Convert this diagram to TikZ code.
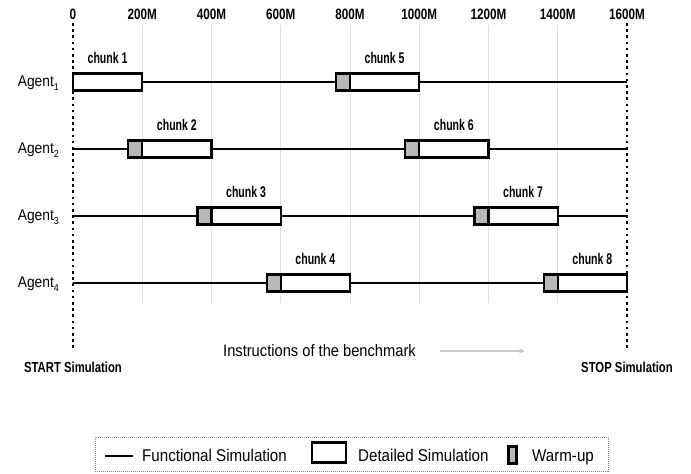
\documentclass[tikz,border=0pt]{standalone}
\usepackage{fontspec}
\setmainfont{Liberation Sans}
\newfontfamily\fchunk{Liberation Sans}[FakeStretch=0.68]
\newfontfamily\fbold{Liberation Sans}[FakeStretch=0.78]
\newfontfamily\fnorm{Liberation Sans}[FakeStretch=0.89]
\usetikzlibrary{arrows.meta}
\newcommand{\agentname}[1]{Agent\raisebox{-3.5pt}{\fontsize{10}{10}\selectfont #1}}
\tikzset{
  ticklbl/.style={font=\fbold\bfseries\fontsize{15}{18}\selectfont, anchor=base, inner sep=0pt},
  chunklbl/.style={font=\fchunk\bfseries\fontsize{15.5}{18}\selectfont, anchor=base, inner sep=0pt},
  agentlbl/.style={font=\fnorm\fontsize{15.5}{18}\selectfont, anchor=base east, inner sep=0pt},
  endlbl/.style={font=\fbold\bfseries\fontsize{14.5}{17}\selectfont, anchor=base, inner sep=0pt},
  legtxt/.style={font=\fnorm\fontsize{17}{20}\selectfont, anchor=base west, inner sep=0pt},
  rowline/.style={line width=2pt, black},
  gridline/.style={line width=0.6pt, black!12},
  dotline/.style={line width=2.6pt, dash pattern=on 2.6pt off 3.6pt, black},
  detail/.style={draw, line width=2.4pt, fill=white, minimum height=17pt, minimum width=69.25pt, inner sep=0pt, outer sep=0pt},
  warm/.style={draw, line width=2.4pt, fill=black!28, minimum height=17pt, minimum width=14pt, inner sep=0pt, outer sep=0pt},
}
\begin{document}
\begin{tikzpicture}[x=1pt,y=-1pt]
\useasboundingbox (0,0) rectangle (691,474);
% grid
\foreach \gx in {142.25,211.5,280.75,350,419.25,488.5,557.75}
  \draw[gridline] (\gx,25) -- (\gx,303);
% tick labels
\node[ticklbl] (t0) at (73,19) {0};
\node[ticklbl] (t1) at (142.25,19) {200M};
\node[ticklbl] (t2) at (211.5,19) {400M};
\node[ticklbl] (t3) at (280.75,19) {600M};
\node[ticklbl] (t4) at (350,19) {800M};
\node[ticklbl] (t5) at (419.25,19) {1000M};
\node[ticklbl] (t6) at (488.5,19) {1200M};
\node[ticklbl] (t7) at (557.75,19) {1400M};
\node[ticklbl] (t8) at (627,19) {1600M};
% dotted start/stop lines
\coordinate (ds) at (73,23); \coordinate (dsb) at (73,350);
\coordinate (de) at (627,23); \coordinate (deb) at (627,350);
\draw[dotline] (ds) -- (dsb);
\draw[dotline] (de) -- (deb);
% rows
\coordinate (s1) at (73,82);  \coordinate (e1) at (627,82);
\coordinate (s2) at (73,149); \coordinate (e2) at (627,149);
\coordinate (s3) at (73,216); \coordinate (e3) at (627,216);
\coordinate (s4) at (73,283); \coordinate (e4) at (627,283);
\draw[rowline] (s1) -- (e1);
\draw[rowline] (s2) -- (e2);
\draw[rowline] (s3) -- (e3);
\draw[rowline] (s4) -- (e4);
% agent labels
\node[agentlbl] (a1) at (59,86.5) {\agentname{1}};
\node[agentlbl] (a2) at (59,153.5) {\agentname{2}};
\node[agentlbl] (a3) at (59,220.5) {\agentname{3}};
\node[agentlbl] (a4) at (59,287.5) {\agentname{4}};
% chunks
\node[detail] (c1) at (107.6,82) {};
\node[detail] (c5) at (384.6,82) {};
\node[warm, anchor=east] (w5) at (c5.west) {};
\node[detail] (c2) at (176.9,149) {};
\node[warm, anchor=east] (w2) at (c2.west) {};
\node[detail] (c6) at (453.9,149) {};
\node[warm, anchor=east] (w6) at (c6.west) {};
\node[detail] (c3) at (246.1,216) {};
\node[warm, anchor=east] (w3) at (c3.west) {};
\node[detail] (c7) at (523.1,216) {};
\node[warm, anchor=east] (w7) at (c7.west) {};
\node[detail] (c4) at (315.4,283) {};
\node[warm, anchor=east] (w4) at (c4.west) {};
\node[detail] (c8) at (592.4,283) {};
\node[warm, anchor=east] (w8) at (c8.west) {};
% chunk labels
\node[chunklbl] (l1) at (107.6,63) {chunk 1};
\node[chunklbl] (l5) at (384.6,63) {chunk 5};
\node[chunklbl] (l2) at (176.9,130) {chunk 2};
\node[chunklbl] (l6) at (453.9,130) {chunk 6};
\node[chunklbl] (l3) at (246.1,197) {chunk 3};
\node[chunklbl] (l7) at (523.1,197) {chunk 7};
\node[chunklbl] (l4) at (315.4,264) {chunk 4};
\node[chunklbl] (l8) at (592.4,264) {chunk 8};
% bottom labels
\node[endlbl] (start) at (73,372) {START Simulation};
\node[endlbl] (stop) at (627,372) {STOP Simulation};
\node[font=\fnorm\fontsize{16.5}{19}\selectfont, anchor=base, inner sep=0pt] (instr) at (319.5,356) {Instructions of the benchmark};
\coordinate (ar0) at (440,351); \coordinate (ar1) at (525,351);
\draw[line width=1.6pt, black!22, -{Stealth[length=6pt,width=5pt]}] (ar0) -- (ar1);
% legend
\node[draw=black!45, line width=0.6pt, dash pattern=on 1pt off 1pt, minimum width=513pt, minimum height=34pt, inner sep=0pt, anchor=north west] (legend) at (95,437) {};
\coordinate (lg0) at (105,456); \coordinate (lg1) at (133,456);
\draw[rowline, line width=2.6pt] (lg0) -- (lg1);
\node[legtxt] (lt1) at (142,461) {Functional Simulation};
\node[detail, minimum width=34pt, minimum height=20pt] (ld) at (329,452.5) {};
\node[legtxt] (lt2) at (358,461) {Detailed Simulation};
\node[warm, minimum width=8pt, minimum height=17pt] (lw) at (512.5,455) {};
\node[legtxt] (lt3) at (532,461) {Warm-up};
\end{tikzpicture}
\end{document}
